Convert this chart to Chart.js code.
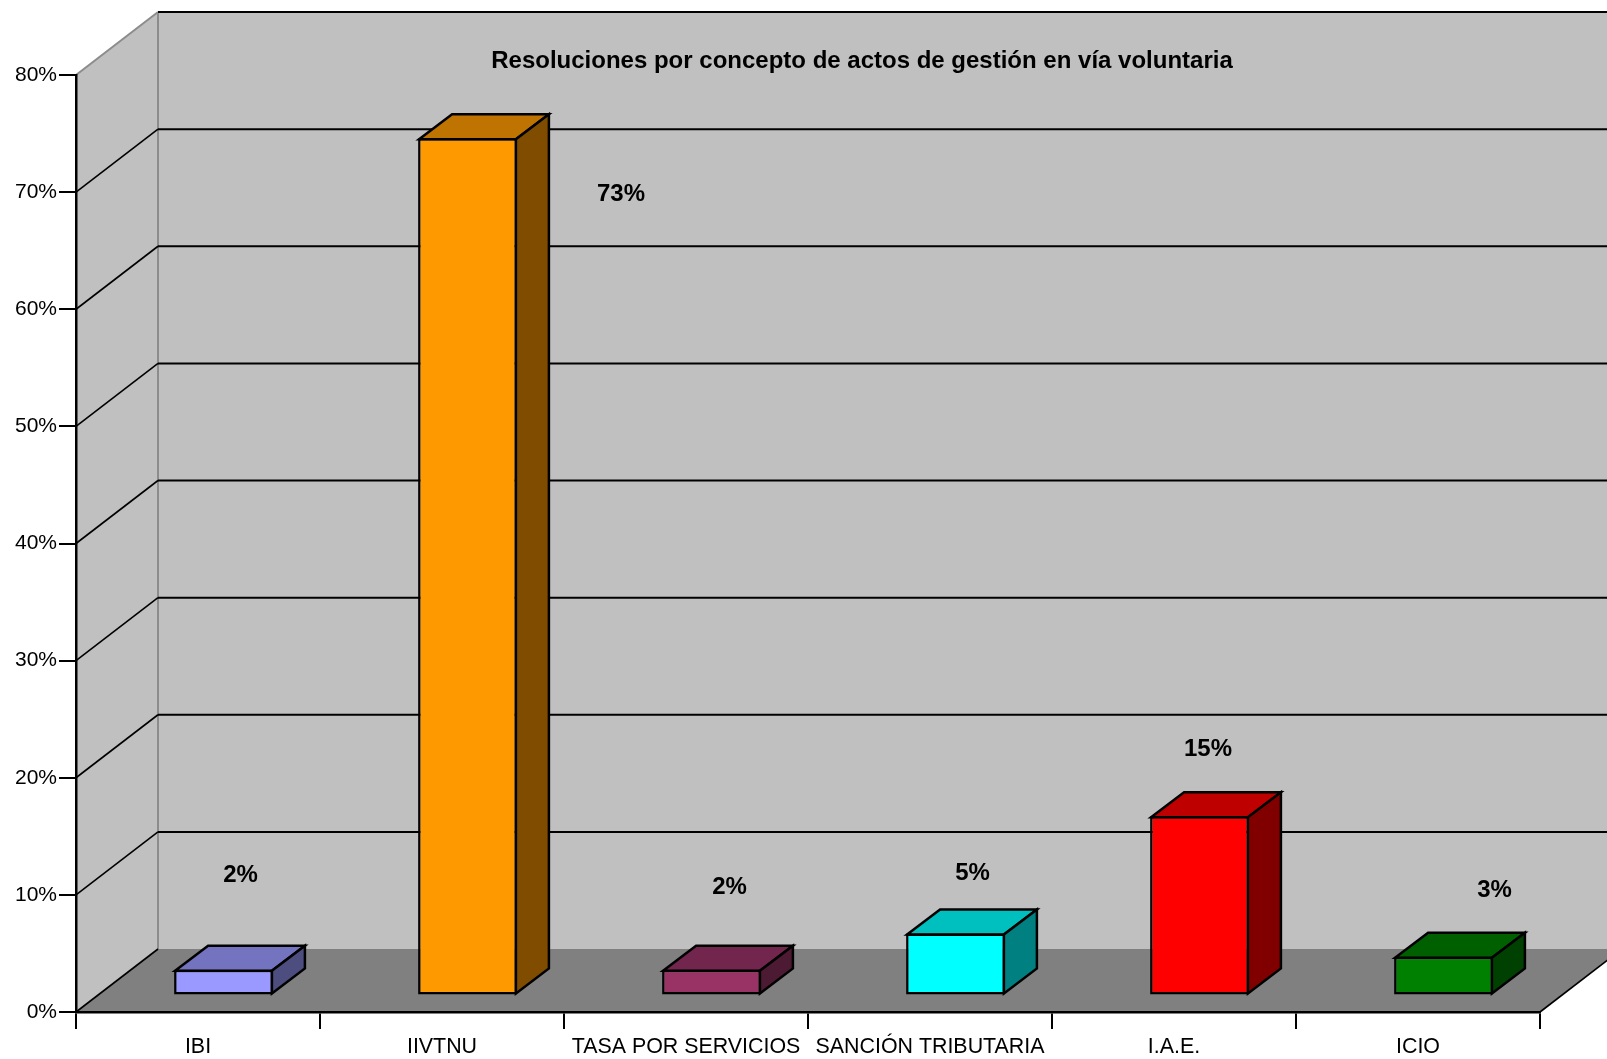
<!DOCTYPE html>
<html>
<head>
<meta charset="utf-8">
<title>Resoluciones por concepto</title>
<style>
  html, body { margin: 0; padding: 0; background: #fff; overflow: hidden; }
  canvas { display: block; filter: blur(0.45px); }
</style>
<script src="https://cdn.jsdelivr.net/npm/chart.js@4"></script>
</head>
<body>
<canvas id="resolucionesChart" width="1607" height="1059"></canvas>
<script>
const categories = ["IBI", "IIVTNU", "TASA POR SERVICIOS", "SANCIÓN TRIBUTARIA", "I.A.E.", "ICIO"];
const values = [2.2, 73.2, 2.2, 5.3, 15.3, 3.3];
const barColors = ["#9999FF", "#FF9900", "#993366", "#00FFFF", "#FF0000", "#008000"];
const yTicks = [0, 10, 20, 30, 40, 50, 60, 70, 80];

const titleText = "Resoluciones por concepto de actos de gestión en vía voluntaria";
const fontFamily = "'Liberation Sans', Arial, sans-serif";

// 3D look: how far the back wall and the bars sit from the front axes
const wallDepth = { x: 82, y: 63 };
const barShift = { x: 25.5, y: 16.5 };
const barDepth = { x: 33, y: 25 };

// the value labels float in odd places in the original, offset from the bar's top centre
const labelShiftX = [17, 153.5, 18, 17, 8.5, 51];
const labelShiftY = [-94.3, 56.3, -82.3, -60, -67, -66];

const shade = (hex, f) => {
  const n = parseInt(hex.slice(1), 16);
  const r = Math.round(((n >> 16) & 255) * f);
  const g = Math.round(((n >> 8) & 255) * f);
  const b = Math.round((n & 255) * f);
  return `rgb(${r},${g},${b})`;
};

const polygon = (ctx, points, fill) => {
  ctx.beginPath();
  points.forEach((p, i) => (i ? ctx.lineTo(p[0], p[1]) : ctx.moveTo(p[0], p[1])));
  ctx.closePath();
  ctx.fillStyle = fill;
  ctx.fill();
  ctx.stroke();
};

const line = (ctx, x1, y1, x2, y2) => {
  ctx.beginPath();
  ctx.moveTo(x1, y1);
  ctx.lineTo(x2, y2);
  ctx.stroke();
};

// Walls, floor and the gridlines that run along them
const wallsPlugin = {
  id: "walls",
  beforeDraw(chart) {
    const { ctx, chartArea, scales } = chart;
    const { left, right, top, bottom } = chartArea;
    const backX = left + wallDepth.x;
    const edge = chart.width;

    ctx.save();
    ctx.fillStyle = "#C0C0C0";
    ctx.fillRect(backX, top - wallDepth.y, edge - backX, bottom - top);

    ctx.beginPath();
    ctx.moveTo(left, top);
    ctx.lineTo(backX, top - wallDepth.y);
    ctx.lineTo(backX, bottom - wallDepth.y);
    ctx.lineTo(left, bottom);
    ctx.closePath();
    ctx.fill();

    ctx.fillStyle = "#808080";
    ctx.beginPath();
    ctx.moveTo(left, bottom);
    ctx.lineTo(backX, bottom - wallDepth.y);
    ctx.lineTo(edge, bottom - wallDepth.y);
    ctx.lineTo(edge, bottom - wallDepth.y * ((edge - right) / wallDepth.x));
    ctx.lineTo(right, bottom);
    ctx.closePath();
    ctx.fill();

    ctx.strokeStyle = "#8c8c8c";
    ctx.lineWidth = 2;
    line(ctx, backX, top - wallDepth.y, backX, bottom - wallDepth.y);
    line(ctx, left, top, backX, top - wallDepth.y);

    ctx.strokeStyle = "#000";
    yTicks.forEach((t) => {
      const y = scales.y.getPixelForValue(t);
      ctx.lineWidth = 2;
      if (t > 0) {
        line(ctx, backX, y - wallDepth.y, edge, y - wallDepth.y);
      }
      if (t < 80) {
        ctx.lineWidth = 1.6;
        line(ctx, left, y, backX, y - wallDepth.y);
      }
    });
    ctx.lineWidth = 1.6;
    line(ctx, right, bottom, right + wallDepth.x, bottom - wallDepth.y);
    ctx.restore();
  },
  beforeDatasetsDraw(chart) {
    const { ctx } = chart;
    ctx.save();
    ctx.translate(barShift.x, -barShift.y);
    ctx.strokeStyle = "#000";
    ctx.lineWidth = 2.5;
    ctx.lineJoin = "miter";
    chart.getDatasetMeta(0).data.forEach((bar, i) => {
      const l = bar.x - bar.width / 2 + 1;
      const r = bar.x + bar.width / 2 - 1;
      const t = bar.y + 1;
      const b = bar.base - 1;
      polygon(ctx, [[l, t], [r, t], [r + barDepth.x, t - barDepth.y], [l + barDepth.x, t - barDepth.y]], shade(barColors[i], 0.75));
      polygon(ctx, [[r, t], [r + barDepth.x, t - barDepth.y], [r + barDepth.x, b - barDepth.y], [r, b]], shade(barColors[i], 0.5));
    });
  },
  afterDatasetsDraw(chart) {
    const { ctx } = chart;
    ctx.restore();
    ctx.save();
    ctx.font = "bold 24px " + fontFamily;
    ctx.fillStyle = "#000";
    ctx.textAlign = "center";
    ctx.textBaseline = "middle";
    chart.getDatasetMeta(0).data.forEach((bar, i) => {
      const x = bar.x + barShift.x + labelShiftX[i];
      const y = bar.y - barShift.y + labelShiftY[i];
      ctx.fillText(Math.round(values[i]) + "%", x, y);
    });
    ctx.restore();
  },
  afterLayout(chart) {
    // the title is centred on the back wall, not on the canvas
    chart.titleBlock.left = 0;
    chart.titleBlock.right = 862 * 2;
    chart.titleBlock.top += 2;
    chart.titleBlock.bottom += 2;
  },
};

new Chart(document.getElementById("resolucionesChart"), {
  type: "bar",
  data: {
    labels: categories,
    datasets: [
      {
        data: values,
        backgroundColor: barColors,
        borderColor: "#000",
        borderWidth: 2.5,
        borderSkipped: false,
        barPercentage: 0.405,
        categoryPercentage: 1,
        clip: false,
      },
    ],
  },
  plugins: [wallsPlugin],
  options: {
    responsive: false,
    animation: false,
    devicePixelRatio: 1,
    layout: { padding: { top: 45.2, right: 67, left: 0, bottom: 0 } },
    plugins: {
      legend: { display: false },
      tooltip: { enabled: false },
      title: {
        display: true,
        text: titleText,
        color: "#000",
        font: { family: fontFamily, size: 24, weight: "bold", lineHeight: 1.2 },
        padding: { top: 0, bottom: 1 },
      },
    },
    scales: {
      x: {
        afterFit(axis) {
          axis.height = 47;
        },
        border: { color: "#000", width: 2.5 },
        grid: { drawOnChartArea: false, color: "#000", lineWidth: 2, tickLength: 17 },
        ticks: {
          color: "#000",
          font: { family: fontFamily, size: 21.4 },
          padding: 5,
          autoSkip: false,
          maxRotation: 0,
        },
      },
      y: {
        min: 0,
        max: 80,
        afterFit(axis) {
          axis.width = 76;
        },
        afterBuildTicks(axis) {
          axis.ticks = yTicks.map((value) => ({ value }));
        },
        border: { color: "#000", width: 2.5 },
        grid: { drawOnChartArea: false, color: "#000", lineWidth: 2, tickLength: 17 },
        ticks: {
          color: "#000",
          font: { family: fontFamily, size: 21 },
          padding: 2,
          callback: (value) => value + "%",
        },
      },
    },
  },
});
</script>
</body>
</html>
